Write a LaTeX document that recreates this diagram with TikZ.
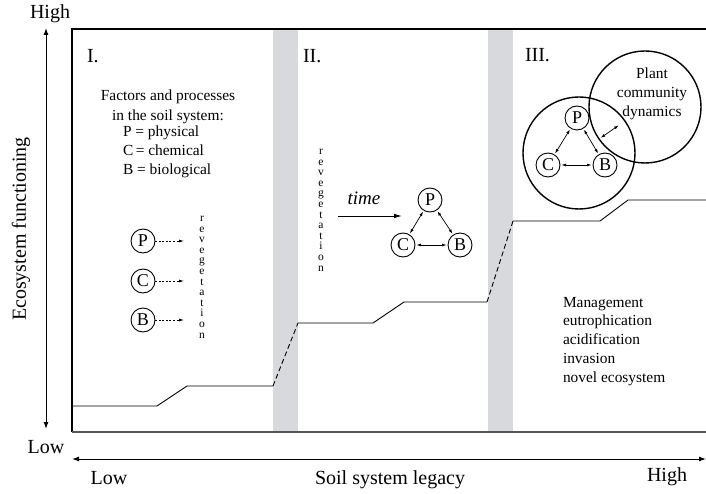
\documentclass[tikz,border=0pt]{standalone}
\usepackage{fontspec}
\setmainfont{Liberation Serif}
\usetikzlibrary{arrows.meta,calc}
\definecolor{bandgray}{RGB}{216,217,220}
\definecolor{axisgray}{RGB}{85,85,85}
\newcommand{\fsAxis}{\fontsize{20}{22}\selectfont}
\newcommand{\fsRoman}{\fontsize{20}{22}\selectfont}
\newcommand{\fsBody}{\fontsize{15.4}{18.8}\selectfont}
\newcommand{\fsCirc}{\fontsize{18}{19}\selectfont}
\newcommand{\fsStack}{\fontsize{11.5}{10.6}\selectfont}
\newcommand{\revegstack}{r\\e\\v\\e\\g\\e\\t\\a\\t\\i\\o\\n}
\begin{document}
\begin{tikzpicture}[x=1pt,y=-1pt,
  every node/.style={inner sep=0pt, outer sep=0pt},
  frame/.style={line width=1.1pt},
  level/.style={line width=0.9pt},
  transition/.style={line width=0.9pt, dash pattern=on 5pt off 3pt},
  band/.style={fill=bandgray, draw=none},
  axisarrow/.style={line width=1pt, {Latex[length=7pt,width=5pt]}-{Latex[length=7pt,width=5pt]}},
  factor/.style={circle, draw, line width=0.9pt, minimum size=24pt, font=\fsCirc},
  bigring/.style={circle, draw, line width=1.4pt, minimum size=112pt},
  dotarrow/.style={line width=0.7pt, dash pattern=on 2pt off 1.6pt, -{Latex[length=5pt,width=3pt]}},
  link/.style={line width=0.7pt, {Latex[length=4.5pt,width=3pt]}-{Latex[length=4.5pt,width=3pt]}, shorten <=1.5pt, shorten >=1.5pt},
  body/.style={font=\fsBody},
  stack/.style={font=\fsStack, align=center},
  roman/.style={font=\fsRoman, anchor=west}
]
\useasboundingbox (0,0) rectangle (706,494);

% transition bands
\fill[band] (273,30) rectangle (298,432);
\fill[band] (488,30) rectangle (513,432);

% plot frame: top and left in black, base line in dark grey
\draw[frame] (706,29) -- (72,29) -- (72,432);
\draw[line width=1.6pt, axisgray] (72,432) -- (706,432);

% axes
\coordinate (yTop) at (46,28);
\coordinate (yBot) at (46,429);
\coordinate (xLeft) at (72,459);
\coordinate (xRight) at (706,459);
\draw[axisarrow] (yTop) -- (yBot);
\draw[axisarrow] (xLeft) -- (xRight);

\node[font=\fsAxis] (yhigh) at (50,14) {High};
\node[font=\fsAxis] (ylow) at (46,447) {Low};
\node[font=\fsAxis, rotate=90] (ylabel) at (21,229) {Ecosystem functioning};
\node[font=\fsAxis] (xlow) at (109,478) {Low};
\node[font=\fsAxis] (xlabel) at (390,480) {Soil system legacy};
\node[font=\fsAxis] (xhigh) at (667,477) {High};

% ecosystem functioning levels
\draw[level] (72,406) -- (157,406) -- (187,386) -- (273,386);
\draw[transition] (273,386) -- (298,323);
\draw[level] (298,323) -- (373,323) -- (404,302) -- (487,302);
\draw[transition] (487,302) -- (513,221);
\draw[level] (513,221) -- (600,221) -- (628,200) -- (706,200);

% stage I
\node[roman] (stageI) at (87,56) {I.};
\node[body, align=center] (factors) at (168,107) {Factors and processes\\[1pt]in the soil system:};
\node[body, align=left, anchor=west] (legend) at (123,152) {P = physical\\C\,= chemical\\B = biological};

\node[factor] (P1) at (143,241) {P};
\node[factor] (C1) at (143,281) {C};
\node[factor] (B1) at (143,320) {B};
\node[stack] (reveg1) at (202,277) {\revegstack};
\coordinate (p1end) at (184,241);
\coordinate (c1end) at (184,281);
\coordinate (b1end) at (184,320);
\draw[dotarrow] (P1) -- (p1end);
\draw[dotarrow] (C1) -- (c1end);
\draw[dotarrow] (B1) -- (b1end);

% stage II
\node[roman] (stageII) at (303,56) {II.};
\node[stack] (reveg2) at (321,210) {\revegstack};
\node[font=\fontsize{19}{20}\selectfont\itshape] (time) at (364,198) {time};
\coordinate (tstart) at (338,216);
\coordinate (tend) at (402,216);
\draw[line width=0.9pt, -{Latex[length=8pt,width=4.5pt]}] (tstart) -- (tend);
\node[factor] (P2) at (430,200) {P};
\node[factor] (C2) at (403,245) {C};
\node[factor] (B2) at (460,245) {B};
\draw[link] (P2) -- (C2);
\draw[link] (P2) -- (B2);
\draw[link] (C2) -- (B2);

% stage III
\node[roman] (stageIII) at (525,55) {III.};
\node[bigring] (soil) at (579,153) {};
\node[bigring] (plant) at (645,107) {};
\node[body, align=center] (plantlbl) at (652,94) {Plant\\community\\dynamics};
\node[factor] (P3) at (577,118) {P};
\node[factor] (C3) at (548,165) {C};
\node[factor] (B3) at (605,165) {B};
\draw[link] (P3) -- (C3);
\draw[link] (P3) -- (B3);
\draw[link] (C3) -- (B3);
\draw[line width=0.7pt, {Latex[length=4.5pt,width=3pt]}-{Latex[length=4.5pt,width=3pt]}]
  ($(soil)!0.33!(plant)$) -- ($(soil)!0.6!(plant)$);

\node[body, align=left, anchor=north west] (drivers) at (563,297) {Management\\eutrophication\\acidification\\invasion\\novel ecosystem};
\end{tikzpicture}
\end{document}
